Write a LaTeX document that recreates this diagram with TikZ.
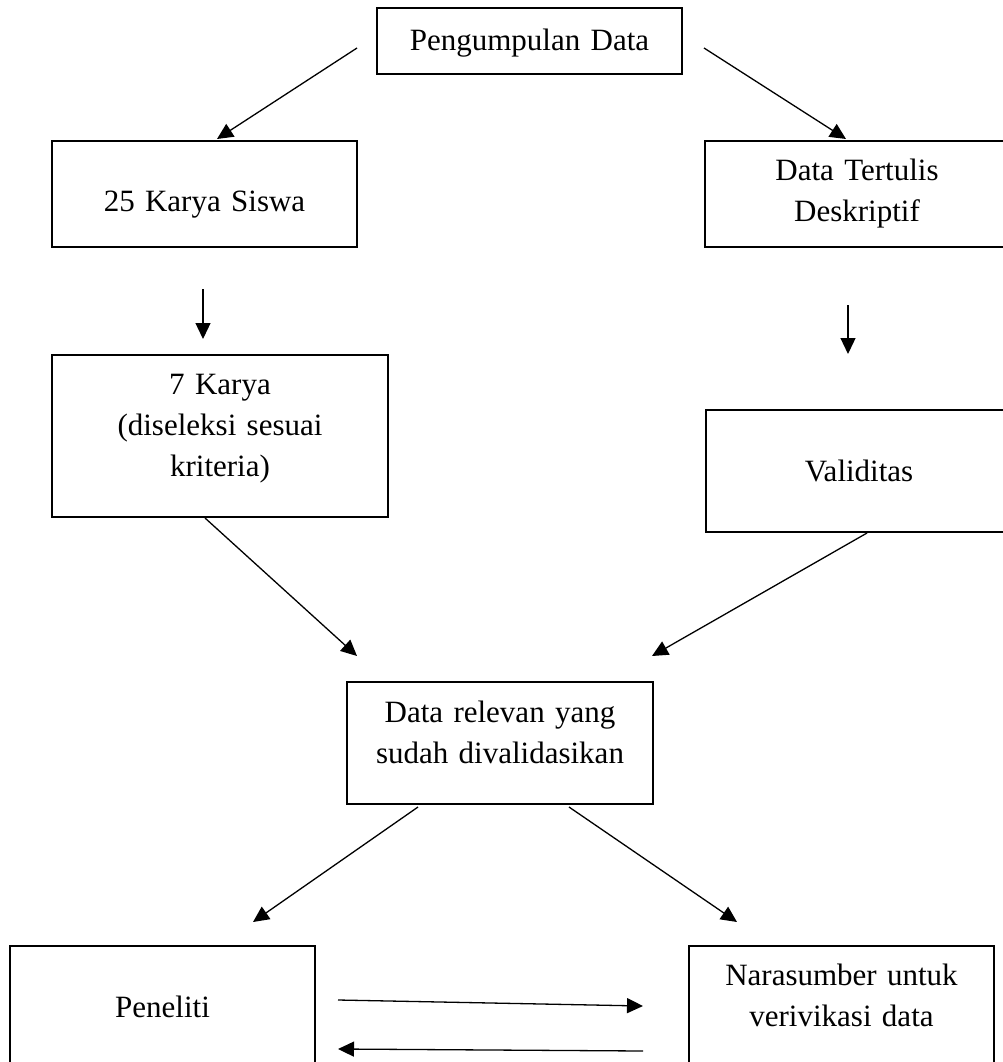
\documentclass[tikz,border=0pt]{standalone}
\usepackage{fontspec}
\setmainfont{Liberation Serif}
\usetikzlibrary{arrows.meta}

\tikzset{
  kotak/.style n args={4}{draw, line width=1.6pt, align=center, inner sep=0pt,
    minimum width=#1, minimum height=#2, text width=#1-12pt,
    text height=#3, text depth=#4},
  panah/.style={-{Triangle[length=16pt, width=15pt]}, line width=1.3pt},
}

\begin{document}
\begin{tikzpicture}[x=1pt, y=-1pt, font=\fontsize{31}{41}\selectfont]
\useasboundingbox (0,0) rectangle (1003,1062);

% Kotak
\node[kotak={305pt}{66pt}{30pt}{10pt}]  (kumpul)     at (529.5,41)  {Pengumpulan Data};
\node[kotak={305pt}{106pt}{40pt}{6pt}]  (siswa)      at (204.5,194) {25 Karya Siswa};
\node[kotak={304pt}{106pt}{10pt}{38pt}] (tertulis)   at (857,194)   {Data Tertulis\\Deskriptif};
\node[kotak={336pt}{162pt}{10pt}{94pt}] (karya)      at (220,436)   {7 Karya\\(diseleksi sesuai\\kriteria)};
\node[kotak={306pt}{122pt}{30pt}{10pt}] (validitas)  at (859,471)   {Validitas};
\node[kotak={306pt}{122pt}{10pt}{52pt}] (relevan)    at (500,743)   {Data relevan yang\\sudah divalidasikan};
\node[kotak={305pt}{122pt}{30pt}{10pt}] (peneliti)   at (162.5,1007){Peneliti};
\node[kotak={305pt}{140pt}{10pt}{72pt}] (narasumber) at (841.5,1016){Narasumber untuk\\verivikasi data};

% Ujung panah
\coordinate (kumpul-l)   at (357,48);
\coordinate (siswa-t)    at (217,139);
\coordinate (kumpul-r)   at (704,48);
\coordinate (tertulis-t) at (846,139);
\coordinate (siswa-b)    at (203,289);
\coordinate (karya-t)    at (203,339);
\coordinate (tertulis-b) at (848,305);
\coordinate (validitas-t)at (848,354);
\coordinate (karya-b)    at (205,518);
\coordinate (relevan-l)  at (357,656);
\coordinate (validitas-b)at (867,533);
\coordinate (relevan-r)  at (652,656);
\coordinate (relevan-bl) at (418,807);
\coordinate (peneliti-t) at (253,922);
\coordinate (relevan-br) at (569,807);
\coordinate (narasumber-t) at (737,922);
\coordinate (peneliti-r1) at (338,1000);
\coordinate (narasumber-l1) at (643,1006);
\coordinate (narasumber-l2) at (643,1051);
\coordinate (peneliti-r2) at (338,1049);

% Panah
\draw[panah] (kumpul-l) -- (siswa-t);
\draw[panah] (kumpul-r) -- (tertulis-t);
\draw[panah] (siswa-b) -- (karya-t);
\draw[panah] (tertulis-b) -- (validitas-t);
\draw[panah] (karya-b) -- (relevan-l);
\draw[panah] (validitas-b) -- (relevan-r);
\draw[panah] (relevan-bl) -- (peneliti-t);
\draw[panah] (relevan-br) -- (narasumber-t);
\draw[panah] (peneliti-r1) -- (narasumber-l1);
\draw[panah] (narasumber-l2) -- (peneliti-r2);

\end{tikzpicture}
\end{document}
